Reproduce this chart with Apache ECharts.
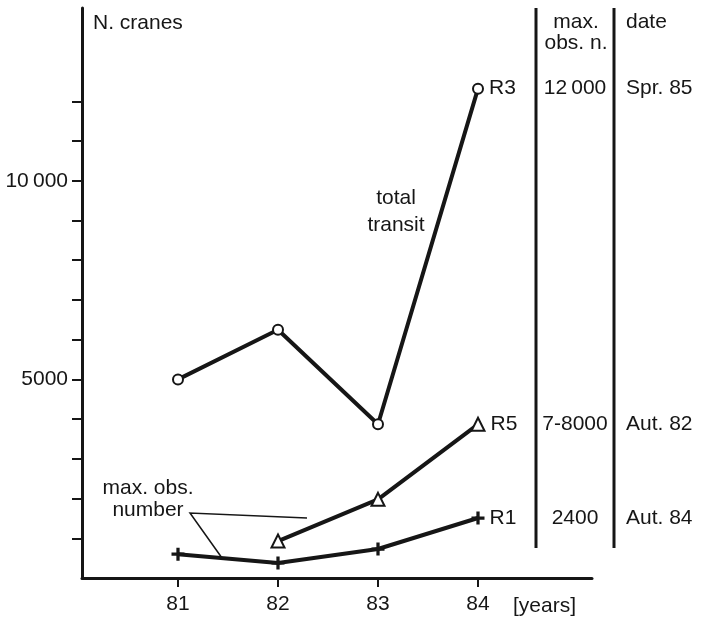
<!DOCTYPE html>
<html>
<head>
<meta charset="utf-8">
<script src="https://cdn.jsdelivr.net/npm/echarts@6/dist/echarts.min.js"></script>
<style>
  html, body { margin: 0; padding: 0; background: #fff; }
  #chart { width: 701px; height: 622px; }
</style>
</head>
<body>
<div id="chart"></div>
<script>
// crane counts per year
const years = [81, 82, 83, 84];
const totalTransit = [5000, 6250, 3870, 12320];
const r5 = [null, 930, 1980, 3870];
const r1 = [600, 380, 730, 1510];

const yTicks = [1000, 2000, 3000, 4000, 5000, 6000, 7000, 8000, 9000, 10000, 11000, 12000];
const yLabels = [5000, 10000];

// right-hand table: site, max. observed number, date
const sites = ['R3', 'R5', 'R1'];
const maxObs = ['12\u2009000', '7-8000', '2400'];
const dates = ['Spr. 85', 'Aut. 82', 'Aut. 84'];

const ink = '#161616';
const font = 'Liberation Sans';
const plus = 'path://M3,0H5V3H8V5H5V8H3V5H0V3H3Z';

function pts(vals, name) {
  const out = [];
  vals.forEach(function (v, i) {
    if (v == null) return;
    const item = { value: [years[i], v] };
    if (i === vals.length - 1) {
      item.label = { show: true, formatter: name };
    }
    out.push(item);
  });
  return out;
}

const chart = echarts.init(document.getElementById('chart'));
const lineSeries = function (name, vals, symbol, size) {
  return {
    name: name,
    type: 'line',
    data: pts(vals, name),
    symbol: symbol,
    symbolSize: size,
    showAllSymbol: true,
    lineStyle: { color: ink, width: 4 },
    itemStyle: { color: ink, borderWidth: symbol === plus ? 0 : 2.5 },
    label: { position: 'right', distance: 5, color: ink, fontSize: 21, fontFamily: font },
    emphasis: { disabled: true },
    z: 3
  };
};

const option = {
  animation: false,
  backgroundColor: '#fff',
  textStyle: { fontFamily: font },
  grid: { left: 82, right: 109, top: 8, bottom: 44 },
  xAxis: {
    type: 'value',
    min: 80.04,
    max: 85.14,
    splitLine: { show: false },
    axisLine: { lineStyle: { color: ink, width: 3 } },
    axisTick: { customValues: years, length: 9, lineStyle: { color: ink, width: 2 } },
    axisLabel: { customValues: years, margin: 16, color: ink, fontSize: 21, fontFamily: font }
  },
  yAxis: {
    type: 'value',
    min: 0,
    max: 14350,
    splitLine: { show: false },
    axisLine: { show: true, lineStyle: { color: ink, width: 3 } },
    axisTick: { show: true, customValues: yTicks, length: 10, lineStyle: { color: ink, width: 2 } },
    axisLabel: {
      customValues: yLabels, margin: 14, color: ink, fontSize: 21, fontFamily: font,
      formatter: function (v) { return v >= 10000 ? '10\u2009000' : String(v); }
    }
  },
  series: [
    lineSeries('R3', totalTransit, 'emptyCircle', 10),
    lineSeries('R5', r5, 'emptyTriangle', 13),
    lineSeries('R1', r1, plus, 13)
  ]
};
chart.setOption(option);

// table rows sit at the height of each series' last point
const lastVals = [totalTransit[3], r5[3], r1[3]];
const rowY = lastVals.map(function (v) { return chart.convertToPixel({ gridIndex: 0 }, [84, v])[1]; });

const txt = function (x, y, s, align) {
  return {
    type: 'text', x: x, y: y, z: 10,
    style: { text: s, fill: ink, fontSize: 21, fontFamily: font, align: align || 'left', verticalAlign: 'middle' }
  };
};

const graphic = [
  { type: 'line', shape: { x1: 536, y1: 8, x2: 536, y2: 548 }, style: { stroke: ink, lineWidth: 3 } },
  { type: 'line', shape: { x1: 614, y1: 8, x2: 614, y2: 548 }, style: { stroke: ink, lineWidth: 3 } },
  txt(93, 23, 'N. cranes'),
  txt(576, 22, 'max.', 'center'),
  txt(576, 43, 'obs. n.', 'center'),
  txt(626, 22, 'date'),
  txt(513, 606, '[years]'),
  {
    type: 'text', x: 396, y: 212, z: 10,
    style: { text: 'total\ntransit', fill: ink, fontSize: 21, fontFamily: font, align: 'center', verticalAlign: 'middle', lineHeight: 27 }
  },
  {
    type: 'text', x: 148, y: 499, z: 10,
    style: { text: 'max. obs.\nnumber', fill: ink, fontSize: 21, fontFamily: font, align: 'center', verticalAlign: 'middle', lineHeight: 22 }
  },
  {
    type: 'polyline', z: 2,
    shape: { points: [[222, 558], [190, 513], [307, 518]] },
    style: { stroke: ink, lineWidth: 1.5, fill: null }
  }
];
sites.forEach(function (s, i) {
  graphic.push(txt(575, rowY[i], maxObs[i], 'center'));
  graphic.push(txt(626, rowY[i], dates[i]));
});
chart.setOption({ graphic: graphic });
</script>
</body>
</html>
